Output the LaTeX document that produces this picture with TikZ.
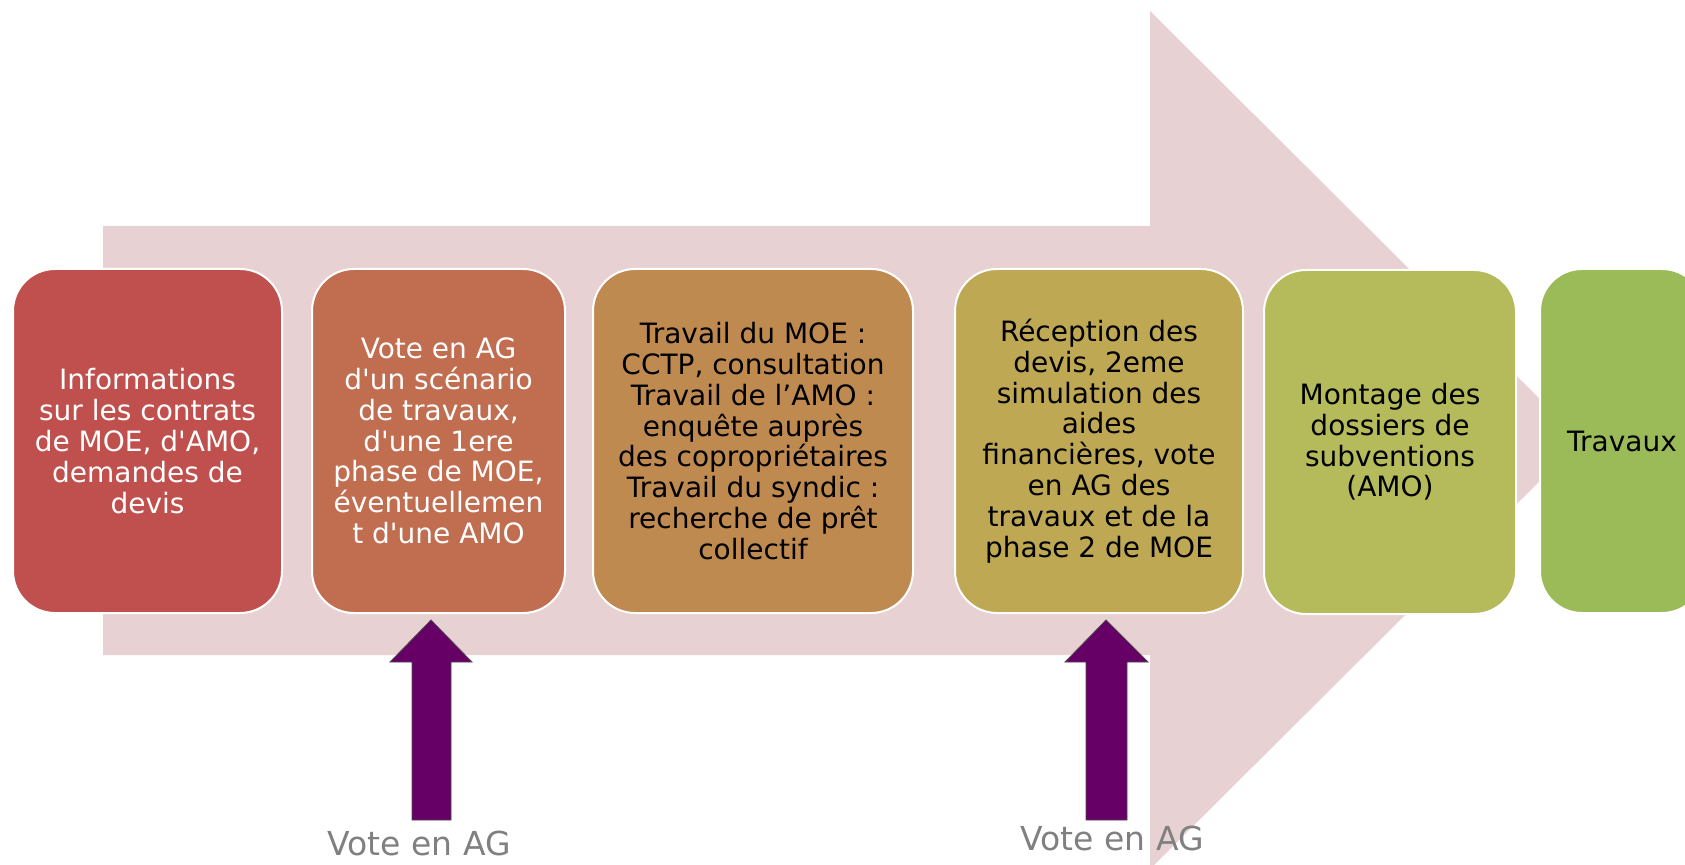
\documentclass[tikz,border=0pt]{standalone}
\usepackage{fontspec}
\setmainfont{DejaVu Sans}[Ligatures=TeXOff]
\definecolor{arrowbg}{HTML}{E8D1D2}
\definecolor{votepurple}{HTML}{660066}
\definecolor{stepA}{HTML}{C0504D}
\definecolor{stepB}{HTML}{C06D50}
\definecolor{stepC}{HTML}{BF8A50}
\definecolor{stepD}{HTML}{BEA853}
\definecolor{stepE}{HTML}{B5BA5B}
\definecolor{stepF}{HTML}{9BBB59}
\begin{document}
\begin{tikzpicture}[x=0.5pt, y=-0.5pt,
	stepbox/.style={draw=white, line width=1pt, rounded corners=21pt, minimum height=172pt, align=center, inner sep=2pt, font=\fontsize{14}{15.4}\selectfont},
	votearrow/.style={fill=votepurple, draw=black!70, line width=0.4pt},
	votelabel/.style={text=black!50, font=\fontsize{16.5}{18}\selectfont}]
			\useasboundingbox (0,0) rectangle (1685,865);
			% big background arrow
			\fill[arrowbg] (103,226) -- (1150,226) -- (1150,11) -- (1581,440) -- (1150,869) -- (1150,655) -- (103,655) -- cycle;
			\node[stepbox, fill=stepA, text=white, minimum width=134.5pt] (infos) at (147.5,441) {Informations\\sur les contrats\\de MOE, d'AMO,\\demandes de\\devis};
			\node[stepbox, fill=stepB, text=white, minimum width=126.5pt] (scenario) at (438.5,441) {Vote en AG\\d'un scénario\\de travaux,\\d'une 1ere\\phase de MOE,\\éventuellemen\\t d'une AMO};
			\node[stepbox, fill=stepC, text=black, minimum width=160pt] (cctp) at (753,441) {Travail du MOE :\\CCTP, consultation\\Travail de l’AMO :\\enquête auprès\\des copropriétaires\\Travail du syndic :\\recherche de prêt\\collectif};
			\node[stepbox, fill=stepD, text=black, minimum width=144pt] (devis) at (1099,441) {Réception des\\devis, 2eme\\simulation des\\aides\\financières, vote\\en AG des\\travaux et de la\\phase 2 de MOE};
			\node[stepbox, fill=stepE, text=black, minimum width=126pt] (subventions) at (1390,442) {Montage des\\dossiers de\\subventions\\(AMO)};
			\node[stepbox, fill=stepF, text=black, minimum width=82pt] (travaux) at (1622,441) {Travaux};
			% vote arrows
			\coordinate (tipA) at (431,620);
			\coordinate (tipB) at (1106,620);
			\draw[votearrow] (tipA) -- ++(41,42) -- ++(-21,0) -- ++(0,158) -- ++(-39,0) -- ++(0,-158) -- ++(-22,0) -- cycle;
			\draw[votearrow] (tipB) -- ++(42,42) -- ++(-21,0) -- ++(0,158) -- ++(-41,0) -- ++(0,-158) -- ++(-21,0) -- cycle;
			\node[votelabel] (voteA) at (419,843) {Vote en AG};
			\node[votelabel] (voteB) at (1112,838) {Vote en AG};
\end{tikzpicture}
\end{document}
